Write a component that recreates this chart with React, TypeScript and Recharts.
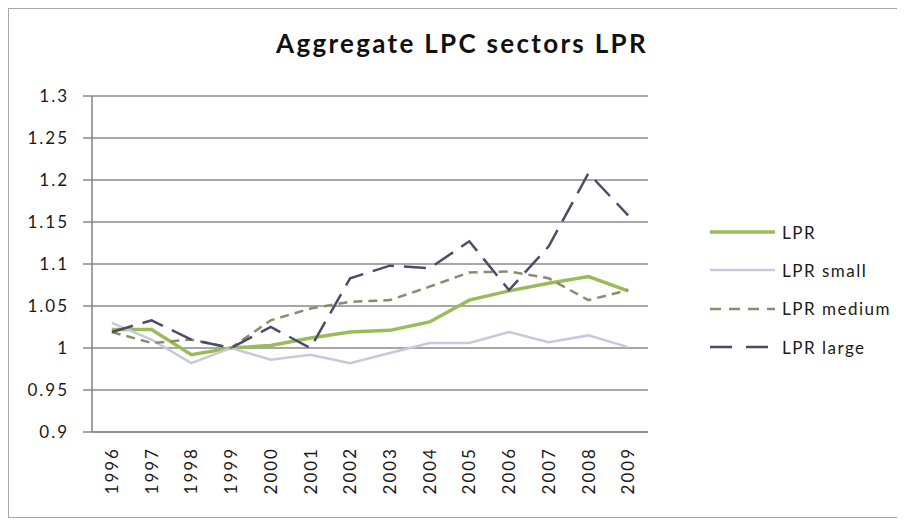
import React from "react";
import { LineChart, Line, XAxis, YAxis, CartesianGrid, Legend } from "recharts";

const years = [1996, 1997, 1998, 1999, 2000, 2001, 2002, 2003, 2004, 2005, 2006, 2007, 2008, 2009];
const lpr = [1.022, 1.022, 0.992, 1.0, 1.003, 1.012, 1.019, 1.021, 1.031, 1.057, 1.068, 1.077, 1.085, 1.068];
const lprSmall = [1.03, 1.01, 0.982, 1.0, 0.986, 0.992, 0.982, 0.994, 1.006, 1.006, 1.019, 1.007, 1.015, 1.001];
const lprMedium = [1.019, 1.006, 1.01, 1.0, 1.033, 1.047, 1.055, 1.057, 1.073, 1.09, 1.091, 1.083, 1.057, 1.069];
const lprLarge = [1.019, 1.033, 1.01, 1.0, 1.025, 1.0, 1.083, 1.098, 1.095, 1.127, 1.069, 1.121, 1.208, 1.158];
const yTicks = [0.9, 0.95, 1.0, 1.05, 1.1, 1.15, 1.2, 1.25, 1.3];
const boundaryTicks = [1995.5, 1996.5, 1997.5, 1998.5, 1999.5, 2000.5, 2001.5, 2002.5, 2003.5, 2004.5, 2005.5, 2006.5, 2007.5, 2008.5, 2009.5];
const title = "Aggregate LPC sectors LPR";

const series = [
  { key: "lpr", name: "LPR", color: "#9bbb59", width: 3.5, dash: undefined as string | undefined, legendDash: undefined as string | undefined },
  { key: "small", name: "LPR small", color: "#c8c8dc", width: 2.5, dash: undefined as string | undefined, legendDash: undefined as string | undefined },
  { key: "medium", name: "LPR medium", color: "#8c8c6c", width: 2.5, dash: "9 6", legendDash: "11 8" },
  { key: "large", name: "LPR large", color: "#4b4b6b", width: 2.5, dash: "22 10", legendDash: "22 14" },
];

const data = years.map((y, i) => ({
  year: y,
  lpr: lpr[i],
  small: lprSmall[i],
  medium: lprMedium[i],
  large: lprLarge[i],
}));

const FONT = "Lato, 'Open Sans', sans-serif";
const GRID = "#8a8a8a";
const TEXT = "#1a1a1a";

const YearTick = (props: any) => {
  const { x, y, payload } = props;
  return (
    <text
      x={x}
      y={y}
      transform={`rotate(-90, ${x}, ${y})`}
      textAnchor="end"
      dy="0.36em"
      fontFamily={FONT}
      fontSize={17}
      letterSpacing={2}
      fill={TEXT}
    >
      {payload.value}
    </text>
  );
};

const ValueTick = (props: any) => {
  const { x, y, payload } = props;
  return (
    <text x={x} y={y} dy="0.36em" textAnchor="end" fontFamily={FONT} fontSize={17} letterSpacing={2} fill={TEXT}>
      {String(parseFloat(Number(payload.value).toFixed(2)))}
    </text>
  );
};

const LegendContent = () => (
  <div style={{ fontFamily: FONT }}>
    {series.map((s) => (
      <div key={s.key} style={{ display: "flex", alignItems: "center", height: 38.3 }}>
        <svg width={66} height={10} style={{ display: "block" }}>
          <line x1={0} y1={5} x2={65} y2={5} stroke={s.color} strokeWidth={s.width} strokeDasharray={s.legendDash} />
        </svg>
        <span style={{ marginLeft: 6, fontSize: 17, letterSpacing: 1.5, color: TEXT, whiteSpace: "nowrap" }}>{s.name}</span>
      </div>
    ))}
  </div>
);

export default function App() {
  return (
    <div style={{ position: "relative", width: 897, height: 510 }}>
      <div
        style={{
          position: "absolute",
          left: 0,
          top: 0,
          width: 897,
          height: 510,
          boxSizing: "border-box",
          borderLeft: "1px solid #a8a8a8",
          borderTop: "1px solid #a8a8a8",
          borderBottom: "1px solid #a8a8a8",
        }}
      />
      <svg width={897} height={60} style={{ position: "absolute", left: 0, top: 0 }}>
        <text x={454} y={45} textAnchor="middle" fontFamily={FONT} fontWeight={700} fontSize={26} letterSpacing={2.3} fill="#111">
          {title}
        </text>
      </svg>
      <LineChart
        width={897}
        height={510}
        data={data}
        margin={{ top: 88, right: 257, left: 0, bottom: 0 }}
        style={{ position: "absolute", left: 0, top: 0 }}
      >
        <CartesianGrid vertical={false} stroke={GRID} strokeWidth={1.6} />
        <XAxis
          xAxisId="b"
          type="number"
          dataKey="year"
          domain={[1995.5, 2009.5]}
          ticks={boundaryTicks}
          tick={false}
          tickSize={6}
          axisLine={false}
          tickLine={{ stroke: GRID, strokeWidth: 1.5 }}
          height={0}
          allowDataOverflow
        />
        <XAxis
          dataKey="year"
          type="number"
          domain={[1995.5, 2009.5]}
          ticks={years}
          interval={0}
          tick={<YearTick />}
          tickLine={false}
          tickSize={0}
          tickMargin={15}
          axisLine={{ stroke: GRID, strokeWidth: 1.6 }}
          height={86}
          allowDataOverflow
        />
        <YAxis
          domain={[0.9, 1.3]}
          ticks={yTicks}
          interval={0}
          width={84}
          tickSize={9}
          tickMargin={14}
          tick={<ValueTick />}
          axisLine={{ stroke: GRID, strokeWidth: 1.6 }}
          tickLine={{ stroke: GRID, strokeWidth: 1.5 }}
          allowDataOverflow
        />
        {series.map((s) => (
          <Line
            key={s.key}
            type="linear"
            dataKey={s.key}
            name={s.name}
            stroke={s.color}
            strokeWidth={s.width}
            strokeDasharray={s.dash}
            dot={false}
            activeDot={false}
            isAnimationActive={false}
          />
        ))}
        <Legend
          layout="horizontal"
          verticalAlign="middle"
          align="center"
          content={<LegendContent />}
          wrapperStyle={{ position: "absolute", left: 702, top: 205, width: 190 }}
        />
      </LineChart>
    </div>
  );
}
